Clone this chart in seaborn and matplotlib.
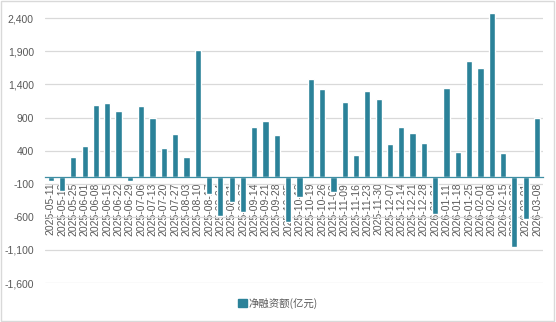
import matplotlib
matplotlib.use("Agg")
import matplotlib.pyplot as plt
import seaborn as sns
import pandas as pd
from matplotlib.patches import Patch, Rectangle

dates = ["2025-05-11", "2025-05-18", "2025-05-25", "2025-06-01", "2025-06-08", "2025-06-15",
         "2025-06-22", "2025-06-29", "2025-07-06", "2025-07-13", "2025-07-20", "2025-07-27",
         "2025-08-03", "2025-08-10", "2025-08-17", "2025-08-24", "2025-08-31", "2025-09-07",
         "2025-09-14", "2025-09-21", "2025-09-28", "2025-10-05", "2025-10-12", "2025-10-19",
         "2025-10-26", "2025-11-02", "2025-11-09", "2025-11-16", "2025-11-23", "2025-11-30",
         "2025-12-07", "2025-12-14", "2025-12-21", "2025-12-28", "2026-01-04", "2026-01-11",
         "2026-01-18", "2026-01-25", "2026-02-01", "2026-02-08", "2026-02-15", "2026-02-22",
         "2026-03-01", "2026-03-08"]
values = [-65, -215, 310, 470, 1095, 1125,
          1005, -60, 1080, 900, 435, 645,
          300, 1920, -250, -590, -370, -525,
          750, 850, 640, -675, -300, 1485,
          1335, -225, 1140, 335, 1295, 1175,
          495, 755, 660, 510, -550, 1350,
          385, 1750, 1645, 2485, 365, -1060,
          -630, 900]
series_name = "净融资额(亿元)"
yticks = [-1600, -1100, -600, -100, 400, 900, 1400, 1900, 2400]

bar_color = "#2b8299"
text_color = "#595959"

sns.set_theme(style="white")
plt.rcParams['font.family'] = ['Liberation Sans', 'DejaVu Sans']

df = pd.DataFrame({"date": dates, "value": values})

fig = plt.figure(figsize=(5.56, 3.22), dpi=100)
ax = fig.add_axes([0.081, 0.121, 0.895, 0.847])

sns.barplot(data=df, x="date", y="value", color=bar_color, width=0.55,
            saturation=1, ax=ax, zorder=3)

ax.set_ylim(-1600, 2520)
ax.set_yticks(yticks)
ax.set_yticklabels([f"{v:,}" for v in yticks], fontsize=7.5, color=text_color)
ax.yaxis.grid(True, color="#d9d9d9", linewidth=0.9, zorder=0)
ax.set_xlim(-0.5, len(dates) - 0.5)

for s in ["top", "right", "left"]:
    ax.spines[s].set_visible(False)
ax.spines["bottom"].set_position(("data", 0))
ax.spines["bottom"].set_color("#3f8ea3")
ax.spines["bottom"].set_linewidth(0.9)
ax.spines["bottom"].set_zorder(4)

ax.tick_params(axis="x", length=0, pad=4)
ax.tick_params(axis="y", length=0, pad=8)
ax.set_xticks(range(len(dates)))
ax.set_xticklabels(dates, rotation=90, fontsize=7.5, color=text_color, va="top", ha="center")
for lbl in ax.get_xticklabels():
    lbl.set_zorder(5)
ax.set_xlabel("")
ax.set_ylabel("")

handle = Patch(facecolor=bar_color, edgecolor=bar_color)
leg = fig.legend([handle], [series_name], loc="center", bbox_to_anchor=(0.5, 0.058),
                 frameon=False, handlelength=0.8, handleheight=0.8, handletextpad=0.2,
                 prop={"family": ["Noto Sans CJK SC", "DejaVu Sans"], "size": 7.5})
for t in leg.get_texts():
    t.set_color(text_color)

fig.patches.append(Rectangle((0.002, 0.003), 0.995, 0.993, transform=fig.transFigure,
                             fill=False, edgecolor="#d9d9d9", linewidth=1))

fig.savefig("out.png", dpi=100)
